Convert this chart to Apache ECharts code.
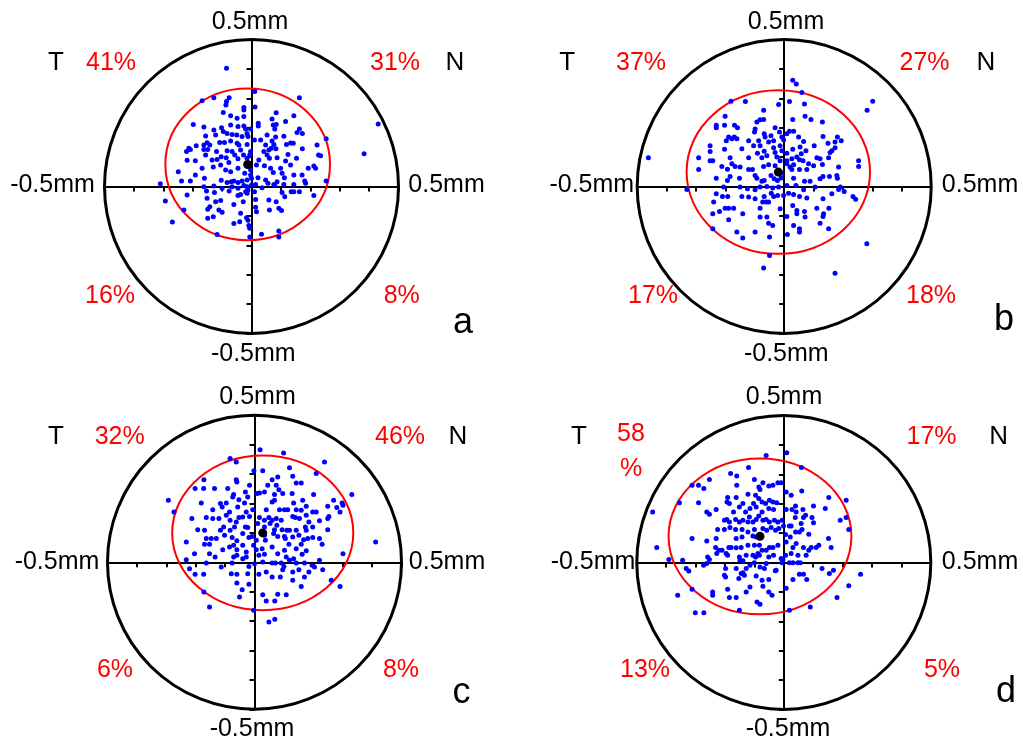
<!DOCTYPE html>
<html><head><meta charset="utf-8">
<script src="https://cdn.jsdelivr.net/npm/echarts@6/dist/echarts.min.js"></script>
<style>html,body{margin:0;padding:0;background:#fff}#c{width:1023px;height:742px}</style>
</head><body><div id="c"></div>
<script>
// Values in micrometres (circle radius = 0.5 mm = 500 µm)
const panelNames = ['a','b','c','d'];
const quadrantPct = { // [T-upper, N-upper, T-lower, N-lower]
  a: ['41%','31%','16%','8%'],
  b: ['37%','27%','17%','18%'],
  c: ['32%','46%','6%','8%'],
  d: ['58\n%','17%','13%','5%']
};
const axisLabels = {top:'0.5mm', bottom:'-0.5mm', left:'-0.5mm', right:'0.5mm', temporal:'T', nasal:'N'};
// mean position [x, y] and 95% ellipse [cx, cy, rx, ry]
const meanA = [-13,75], ellA = [-13,75,280,258];
const meanB = [-20,49], ellB = [-20,49,312,278];
const meanC = [28,100], ellC = [28,100,308,263];
const meanD = [-81,89], ellD = [-81,89,311,265];

const ptsA = [[-85,402],[11,323],[-168,292],[-128,302],[-85,289],[-76,302],[163,302],[-87,277],[-26,269],[-26,260],[12,270],[84,251],[-96,252],[-71,241],[-49,232],[-26,238],[144,241],[70,230],[116,221],[-198,211],[-162,202],[-128,192],[-102,200],[-96,187],[-71,209],[-46,204],[-26,206],[-20,196],[-3,196],[23,215],[23,206],[74,209],[84,211],[79,196],[163,196],[173,180],[155,184],[-156,172],[-122,175],[-83,180],[-66,177],[-50,175],[-32,170],[-15,180],[-12,170],[53,175],[110,171],[82,168],[-213,130],[-188,139],[-162,141],[-151,149],[-142,141],[-108,150],[-92,150],[-71,155],[-49,147],[-43,141],[-15,143],[10,158],[31,158],[48,141],[70,155],[76,143],[119,143],[133,148],[142,147],[173,128],[223,141],[254,162],[-221,119],[-208,126],[-162,126],[-149,126],[-119,119],[-83,122],[-66,119],[-57,107],[-37,124],[-27,107],[-3,119],[42,119],[59,124],[67,130],[83,128],[124,109],[228,107],[-219,89],[-191,88],[-156,107],[-134,90],[-117,92],[-103,101],[-86,98],[-77,82],[-46,94],[-15,96],[-6,107],[25,90],[53,107],[61,96],[87,98],[116,87],[153,96],[212,70],[235,105],[-249,50],[-168,62],[-130,66],[-105,73],[-88,56],[-71,50],[-46,62],[-23,45],[-3,56],[17,73],[44,71],[65,62],[74,48],[99,62],[104,45],[133,73],[144,39],[172,39],[193,62],[218,62],[-238,19],[-208,19],[-191,39],[-160,28],[-103,21],[-83,14],[-69,16],[-60,19],[-46,14],[-32,19],[-15,22],[-3,39],[0,28],[22,30],[48,22],[56,11],[76,7],[87,16],[112,30],[110,7],[144,7],[181,19],[254,19],[-310,9],[-162,-1],[-128,2],[-100,-6],[-76,-15],[-66,-1],[-46,-6],[-26,3],[-15,-1],[-12,-12],[0,5],[14,7],[10,-18],[36,-4],[79,3],[104,-20],[135,-18],[144,-18],[163,-18],[184,11],[-293,-49],[-219,-29],[-153,-15],[-151,-40],[-126,-20],[-105,-48],[-46,-31],[-37,-27],[-20,-18],[-15,-23],[14,-44],[59,-46],[84,-52],[113,-35],[212,-31],[-230,-80],[-149,-77],[-142,-69],[-122,-52],[-111,-80],[-60,-61],[-28,-52],[14,-71],[61,-80],[93,-74],[102,-82],[-149,-108],[-130,-103],[-100,-88],[-37,-91],[-40,-120],[-17,-106],[-12,-115],[17,-86],[-269,-121],[-60,-126],[-9,-133],[-6,-142],[93,-151],[-117,-163],[-6,-172],[34,-162],[93,-172],[431,213],[383,111]];

const ptsB = [[29,361],[41,349],[60,320],[-181,290],[-132,289],[-19,279],[18,289],[69,281],[301,290],[282,259],[-70,259],[-201,239],[-70,228],[29,228],[71,239],[91,228],[130,219],[-231,208],[-231,200],[-203,208],[-169,208],[-159,200],[-93,219],[-82,227],[-99,196],[-101,185],[-31,200],[-16,185],[18,188],[32,188],[-189,168],[-178,162],[-197,156],[-170,168],[-161,162],[-121,156],[-87,156],[-68,179],[-65,168],[-53,151],[-45,173],[-36,156],[-8,168],[-2,159],[9,179],[49,168],[66,153],[102,139],[132,170],[149,147],[173,151],[181,168],[194,156],[173,132],[-252,139],[-252,119],[-203,127],[-144,128],[-104,139],[-82,139],[-91,113],[-68,120],[-36,132],[-31,116],[-14,139],[-8,122],[9,113],[29,127],[54,134],[74,122],[58,111],[162,122],[156,116],[-291,98],[-252,88],[-243,88],[-184,98],[-121,98],[-76,98],[-59,105],[-25,100],[-14,88],[9,88],[26,94],[43,100],[52,91],[64,88],[111,98],[122,94],[151,98],[253,88],[-291,58],[-212,68],[-193,59],[-178,77],[-167,68],[-150,66],[-121,58],[-108,58],[-70,68],[-53,74],[-31,71],[9,77],[20,66],[26,58],[32,74],[52,58],[77,58],[83,77],[100,71],[130,75],[185,66],[253,68],[-231,28],[-193,20],[-184,34],[-152,28],[-99,37],[-93,28],[-76,18],[-68,20],[-45,37],[-34,26],[-23,20],[-11,29],[-8,45],[32,28],[69,18],[88,18],[122,26],[132,34],[154,34],[179,37],[181,28],[-331,-10],[-206,-2],[-150,-2],[-125,-8],[-99,-11],[-82,-2],[-59,0],[-39,-5],[-19,-2],[9,3],[40,3],[66,-11],[105,-2],[185,-10],[191,-2],[204,-17],[-231,-25],[-240,-53],[-210,-34],[-192,-34],[-144,-34],[-121,-36],[-99,-42],[-68,-34],[-44,-23],[-36,-34],[-22,-31],[-2,-31],[15,-23],[32,-27],[52,-34],[77,-39],[132,-42],[162,-25],[234,-34],[243,-43],[-243,-93],[-220,-85],[-201,-74],[-189,-74],[-172,-74],[-141,-93],[-82,-74],[-73,-53],[-61,-53],[-53,-53],[-14,-76],[29,-65],[43,-82],[69,-85],[111,-74],[134,-93],[152,-74],[132,-102],[-189,-113],[-161,-155],[-141,-175],[-99,-155],[-82,-104],[-59,-104],[-53,-125],[-39,-133],[9,-102],[11,-163],[32,-133],[43,-93],[52,-144],[52,-155],[71,-104],[122,-125],[151,-144],[-243,-144],[-50,-172],[-50,-235],[-70,-277],[173,-295],[281,-195],[-462,98]];

const ptsC = [[19,383],[99,372],[-83,353],[-62,341],[238,341],[28,311],[-2,311],[119,322],[210,302],[-172,281],[-202,251],[-173,251],[-62,281],[-60,273],[-17,262],[45,262],[60,281],[79,290],[130,293],[142,270],[159,270],[74,262],[83,247],[-293,211],[-274,171],[-181,202],[-136,251],[-91,251],[-71,231],[-53,213],[-74,222],[-31,239],[-23,222],[8,234],[17,236],[34,239],[68,231],[96,234],[128,234],[133,202],[164,211],[201,231],[269,211],[298,202],[301,194],[331,231],[249,191],[-142,179],[-116,200],[-110,188],[-96,202],[-85,171],[-57,188],[-34,202],[-28,171],[-6,179],[40,179],[60,205],[68,211],[85,179],[102,179],[113,179],[142,179],[159,177],[176,191],[198,171],[210,171],[253,156],[280,186],[291,171],[-213,149],[-164,152],[-142,149],[-121,149],[-96,160],[-83,143],[-62,137],[-53,152],[-40,154],[-17,156],[17,152],[34,143],[49,152],[60,143],[74,149],[91,143],[130,156],[139,152],[153,149],[176,160],[185,137],[221,141],[249,149],[-193,111],[-170,109],[-116,109],[-105,120],[-83,109],[-68,120],[-31,120],[-23,118],[11,132],[34,120],[53,132],[68,111],[76,126],[94,111],[110,109],[119,109],[142,109],[173,120],[176,109],[198,120],[249,111],[-232,69],[-164,81],[-147,81],[-130,81],[-102,92],[-76,84],[-60,73],[-40,98],[-19,84],[-8,88],[6,75],[34,92],[37,75],[65,98],[79,88],[102,88],[105,81],[130,86],[151,92],[159,61],[167,77],[181,81],[198,84],[221,81],[230,61],[412,69],[-204,29],[-170,61],[-153,61],[-153,29],[-108,43],[-85,52],[-71,58],[-60,43],[-40,58],[-28,35],[-3,58],[6,43],[26,46],[34,27],[60,52],[79,29],[102,41],[117,61],[142,46],[162,27],[176,39],[301,29],[-232,9],[-221,-22],[-202,-41],[-173,-41],[-164,-2],[-134,18],[-113,-16],[-76,-2],[-71,18],[-60,24],[-40,12],[-28,18],[-19,-14],[0,-5],[15,24],[28,1],[60,-2],[71,-2],[91,-2],[100,-14],[108,18],[119,7],[133,12],[142,-2],[170,-2],[196,-10],[221,7],[-79,-39],[-60,-41],[-23,-39],[15,-41],[40,-33],[60,-50],[88,-50],[96,-25],[130,-33],[151,-25],[170,-50],[185,-33],[204,-16],[232,-25],[261,-61],[291,-82],[-172,-101],[-153,-152],[-60,-70],[-42,-93],[-51,-118],[-19,-75],[28,-110],[40,-132],[69,-132],[79,-109],[108,-110],[130,-61],[159,-82],[-3,-163],[49,-203],[69,-194]];

const ptsD = [[-60,364],[10,373],[60,323],[-120,323],[-181,303],[-160,294],[-253,282],[-312,263],[-290,263],[-272,252],[-160,263],[-100,282],[-85,257],[-71,271],[-81,248],[-51,260],[-37,263],[-20,271],[-9,271],[8,240],[25,229],[61,243],[153,221],[212,212],[-355,203],[-290,203],[-262,172],[-253,164],[-230,180],[-191,221],[-193,206],[-162,221],[-185,201],[-171,172],[-139,201],[-151,189],[-122,232],[-96,229],[-85,218],[-103,201],[-115,184],[-130,172],[-94,189],[-74,206],[-62,201],[-49,212],[-37,206],[-24,203],[-51,184],[-35,180],[-74,172],[8,180],[28,180],[40,192],[42,172],[65,180],[74,161],[101,192],[141,184],[39,153],[-446,172],[-202,144],[-194,146],[-185,138],[-164,146],[-151,138],[-139,144],[-122,138],[-117,155],[-105,138],[-94,146],[-85,158],[-71,144],[-60,146],[-49,138],[-32,144],[-20,138],[-6,144],[-1,124],[25,124],[59,133],[67,153],[96,153],[101,135],[192,144],[212,153],[221,112],[-312,82],[-262,73],[-230,82],[-225,112],[-202,112],[-183,119],[-164,112],[-162,82],[-142,112],[-142,87],[-122,104],[-105,90],[-100,112],[-94,87],[-71,116],[-58,110],[-43,119],[-28,110],[-17,116],[6,95],[19,124],[22,87],[40,104],[53,104],[62,112],[85,96],[110,51],[152,82],[-432,51],[-232,51],[-221,42],[-210,42],[-187,51],[-179,51],[-162,50],[-145,51],[-122,59],[-100,59],[-83,59],[-74,42],[-49,51],[-37,51],[-20,59],[8,70],[31,51],[42,65],[67,51],[85,42],[93,51],[119,59],[161,51],[-391,10],[-344,8],[-259,19],[-253,10],[-228,31],[-196,31],[-191,25],[-151,19],[-139,6],[-128,25],[-105,25],[-96,19],[-88,31],[-83,25],[-60,42],[-51,19],[-35,25],[-9,14],[-3,10],[6,25],[25,31],[48,25],[76,25],[-332,-20],[-323,-29],[-273,-9],[-262,-3],[-198,-20],[-162,-20],[-149,8],[-139,-35],[-128,-20],[-115,-9],[-100,-1],[-81,-15],[-66,-20],[-60,-3],[-26,-26],[-6,-1],[19,-1],[31,-1],[48,-1],[56,-1],[130,-20],[155,-37],[169,-26],[261,-40],[-312,-91],[-242,-100],[-242,-111],[-202,-43],[-198,-49],[-191,-91],[-153,-54],[-145,-37],[-134,-43],[-128,-100],[-115,-83],[-94,-46],[-74,-60],[-71,-81],[-51,-58],[-51,-100],[-40,-111],[-29,-28],[8,-88],[31,-58],[53,-40],[67,-40],[78,-58],[-361,-111],[-301,-171],[-272,-171],[-185,-119],[-162,-119],[-151,-162],[-91,-134],[-81,-142],[90,-151],[19,-162],[181,-119],[221,-79]];

const R = 147;
const layout = {
  a:{cx:251.5, cy:186.5, pts:ptsA, mean:meanA, ell:ellA},
  b:{cx:784.2, cy:186.5, pts:ptsB, mean:meanB, ell:ellB},
  c:{cx:254.5, cy:562.3, pts:ptsC, mean:meanC, ell:ellC},
  d:{cx:783.8, cy:562.5, pts:ptsD, mean:meanD, ell:ellD}
};
// text positions [x, y] (pixel layout)
const textPos = {
  a:{top:[250,21.7], bottom:[253.3,354], left:[52.5,185.5], right:[446.5,185.5], T:[56,62.5], N:[455,62.5], q:[[111,63.5],[395,63.5],[110,296],[401.7,296]], letter:[463,323.5]},
  b:{top:[786,21.7], bottom:[786.3,354], left:[591.8,185.5], right:[980,185.5], T:[567.3,62.5], N:[986,62.5], q:[[641,63.5],[924.5,63.5],[653,296],[931,296]], letter:[1004,320]},
  c:{top:[257.5,397.5], bottom:[252,729], left:[57,562], right:[447,562], T:[56,437], N:[458,437], q:[[119.7,437.5],[400,437.5],[115,670],[401,670]], letter:[461.5,693]},
  d:{top:[784,397.5], bottom:[788,729], left:[593,562], right:[980,562], T:[579,437], N:[998.7,437], q:[[631,452],[931.5,437.5],[645,670],[942,670]], letter:[1006,692]}
};

const FONT = '25px "Liberation Sans", Arial, sans-serif';
const FONT_TN = '26px "Liberation Sans", Arial, sans-serif';
const FONT_LETTER = '36px "Liberation Sans", Arial, sans-serif';
const grids = [], xAxes = [], yAxes = [], series = [], graphics = [];
panelNames.forEach((p, i) => {
  const L = layout[p];
  grids.push({left:L.cx - R, top:L.cy - R, width:2*R, height:2*R});
  const axisCommon = {
    type:'value', min:-500, max:500, interval:100, gridIndex:i,
    axisLine:{show:true, onZero:true, lineStyle:{color:'#000', width:2}},
    axisTick:{show:true, inside:false, length:5, lineStyle:{color:'#000', width:2}},
    axisLabel:{show:false}, splitLine:{show:false}
  };
  xAxes.push(Object.assign({position:'bottom'}, axisCommon));
  yAxes.push(Object.assign({position:'left'}, axisCommon));
  series.push({
    type:'custom', xAxisIndex:i, yAxisIndex:i, silent:true, z:3,
    data:[[0,0,500]],
    renderItem:(params, api) => {
      const c = api.coord([api.value(0), api.value(1)]);
      const r = api.size([api.value(2), 0])[0];
      return {type:'circle', shape:{cx:c[0], cy:c[1], r:r}, style:{fill:'none', stroke:'#000', lineWidth:3}};
    }
  });
  series.push({
    type:'custom', xAxisIndex:i, yAxisIndex:i, silent:true, z:4,
    data:[L.ell],
    renderItem:(params, api) => {
      const c = api.coord([api.value(0), api.value(1)]);
      const s = api.size([api.value(2), api.value(3)]);
      return {type:'ellipse', shape:{cx:c[0], cy:c[1], rx:s[0], ry:s[1]}, style:{fill:'none', stroke:'#ff0000', lineWidth:2}};
    }
  });
  series.push({
    type:'scatter', xAxisIndex:i, yAxisIndex:i, data:L.pts, symbolSize:5, z:5,
    itemStyle:{color:'#0000ff', opacity:1}, silent:true
  });
  series.push({
    type:'scatter', xAxisIndex:i, yAxisIndex:i, data:[L.mean], symbolSize:9, z:6,
    itemStyle:{color:'#000', opacity:1}, silent:true
  });
  const T = textPos[p];
  const addText = (txt, pos, color, font) => graphics.push({
    type:'text', x:pos[0], y:pos[1], z:100,
    style:{text:txt, font:font || FONT, fill:color, align:'center', verticalAlign:'middle', lineHeight:35}
  });
  addText(axisLabels.top, T.top, '#000');
  addText(axisLabels.bottom, T.bottom, '#000');
  addText(axisLabels.left, T.left, '#000');
  addText(axisLabels.right, T.right, '#000');
  addText(axisLabels.temporal, T.T, '#000', FONT_TN);
  addText(axisLabels.nasal, T.N, '#000', FONT_TN);
  quadrantPct[p].forEach((s, k) => addText(s, T.q[k], '#ff0000'));
  addText(p, T.letter, '#000', FONT_LETTER);
});

const chart = echarts.init(document.getElementById('c'), null, {renderer:'canvas'});
chart.setOption({
  animation:false,
  backgroundColor:'#fff',
  grid:grids, xAxis:xAxes, yAxis:yAxes, series:series, graphic:graphics
});
</script>
</body></html>
